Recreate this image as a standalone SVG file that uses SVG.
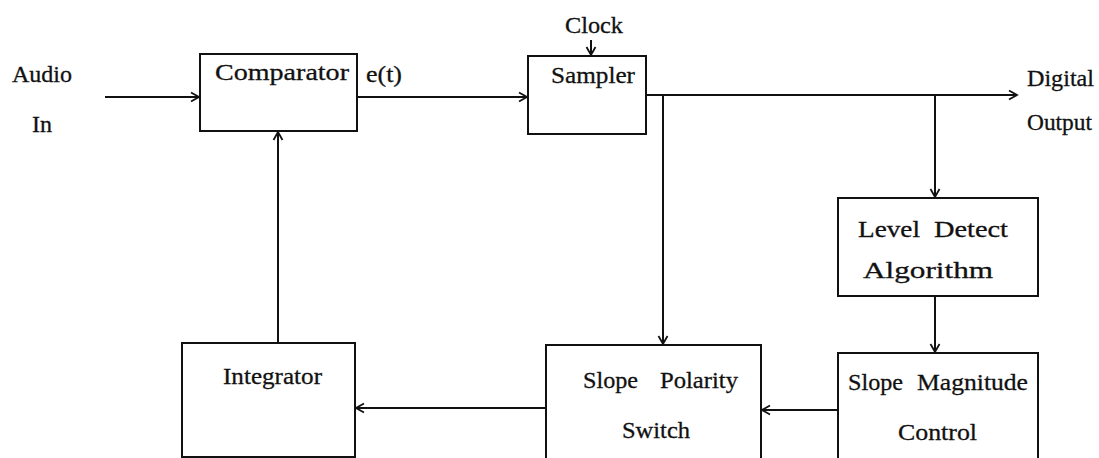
<svg xmlns="http://www.w3.org/2000/svg" width="1099" height="458" viewBox="0 0 1099 458">
<style>
.box{fill:none;stroke:#111;stroke-width:2}
.wire{fill:none;stroke:#111;stroke-width:2}
.lbl{font-family:"Liberation Serif","Times New Roman",serif;font-size:24px;fill:#111;stroke:#111;stroke-width:0.3}
</style>
<defs>
<marker id="ah" markerWidth="12" markerHeight="12" refX="10" refY="6" orient="auto" markerUnits="userSpaceOnUse">
<path d="M2,1.5 L10,6 L2,10.5" fill="none" stroke="#111" stroke-width="1.8"/>
</marker>
</defs>
<rect width="1099" height="458" fill="#fff"/>
<g id="connectors">
<path class="wire" d="M105,97 H199" marker-end="url(#ah)"/>
<path class="wire" d="M357,97 H527" marker-end="url(#ah)"/>
<path class="wire" d="M591,40 V55" marker-end="url(#ah)"/>
<path class="wire" d="M646,95 H1017" marker-end="url(#ah)"/>
<path class="wire" d="M663,95 V344" marker-end="url(#ah)"/>
<path class="wire" d="M935,95 V197" marker-end="url(#ah)"/>
<path class="wire" d="M935,296 V352" marker-end="url(#ah)"/>
<path class="wire" d="M838,410 H762" marker-end="url(#ah)"/>
<path class="wire" d="M546,408 H356" marker-end="url(#ah)"/>
<path class="wire" d="M278,343 V132" marker-end="url(#ah)"/>
</g>
<g id="audio-in">
<text class="lbl" x="12" y="82" textLength="60" lengthAdjust="spacingAndGlyphs">Audio</text>
<text class="lbl" x="32" y="132" textLength="20" lengthAdjust="spacingAndGlyphs">In</text>
</g>
<g id="comparator">
<rect class="box" x="200" y="54" width="157" height="77"/>
<text class="lbl" x="215" y="80" textLength="134" lengthAdjust="spacingAndGlyphs">Comparator</text>
</g>
<g id="et-label">
<text class="lbl" x="366" y="82" textLength="36" lengthAdjust="spacingAndGlyphs">e(t)</text>
</g>
<g id="clock">
<text class="lbl" x="565" y="33" textLength="58" lengthAdjust="spacingAndGlyphs">Clock</text>
</g>
<g id="sampler">
<rect class="box" x="528" y="56" width="118" height="78"/>
<text class="lbl" x="551" y="83" textLength="84" lengthAdjust="spacingAndGlyphs">Sampler</text>
</g>
<g id="digital-output">
<text class="lbl" x="1027" y="86" textLength="67" lengthAdjust="spacingAndGlyphs">Digital</text>
<text class="lbl" x="1027" y="130" textLength="65" lengthAdjust="spacingAndGlyphs">Output</text>
</g>
<g id="level-detect">
<rect class="box" x="838" y="198" width="200" height="98"/>
<text class="lbl" x="858" y="237" textLength="62" lengthAdjust="spacingAndGlyphs">Level</text>
<text class="lbl" x="934" y="237" textLength="74" lengthAdjust="spacingAndGlyphs">Detect</text>
<text class="lbl" x="863" y="278" textLength="130" lengthAdjust="spacingAndGlyphs">Algorithm</text>
</g>
<g id="integrator">
<rect class="box" x="182" y="343" width="173" height="114"/>
<text class="lbl" x="223" y="384" textLength="99" lengthAdjust="spacingAndGlyphs">Integrator</text>
</g>
<g id="slope-polarity">
<rect class="box" x="546" y="345" width="215" height="125"/>
<text class="lbl" x="583" y="388" textLength="55" lengthAdjust="spacingAndGlyphs">Slope</text>
<text class="lbl" x="660" y="388" textLength="78" lengthAdjust="spacingAndGlyphs">Polarity</text>
<text class="lbl" x="622" y="438" textLength="68" lengthAdjust="spacingAndGlyphs">Switch</text>
</g>
<g id="slope-magnitude">
<rect class="box" x="838" y="353" width="200" height="117"/>
<text class="lbl" x="848" y="390" textLength="55" lengthAdjust="spacingAndGlyphs">Slope</text>
<text class="lbl" x="917" y="390" textLength="111" lengthAdjust="spacingAndGlyphs">Magnitude</text>
<text class="lbl" x="898" y="440" textLength="79" lengthAdjust="spacingAndGlyphs">Control</text>
</g>
</svg>
